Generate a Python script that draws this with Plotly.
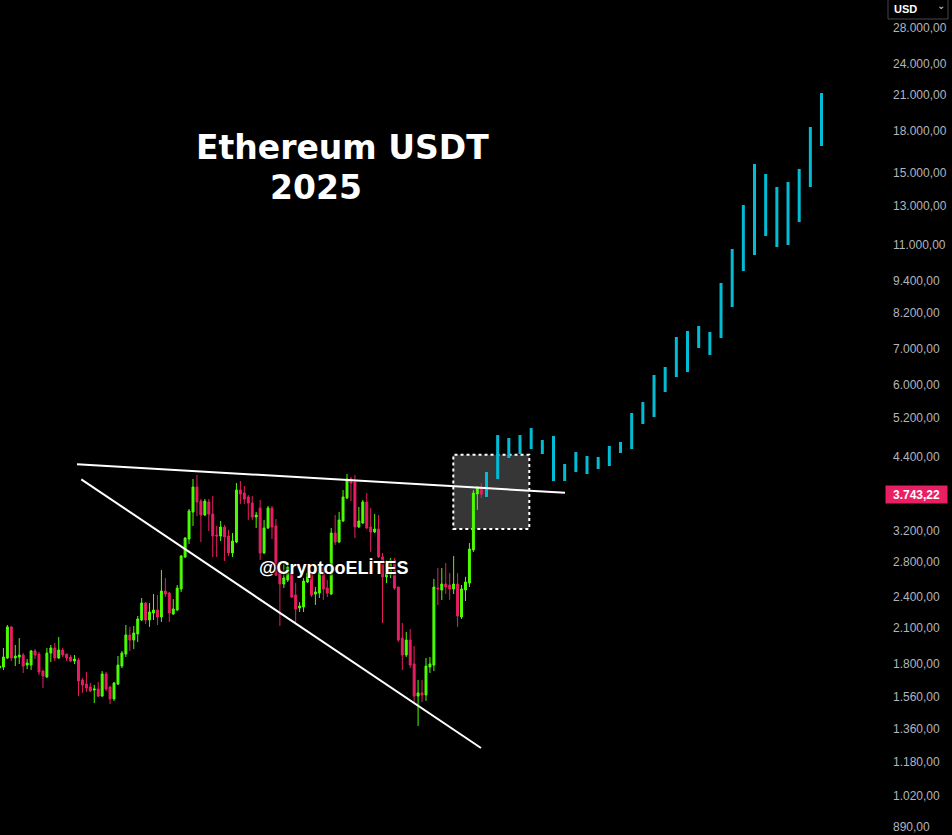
import numpy as np
import plotly.graph_objects as go

# ---------------- data ----------------
# weekly ETH/USDT candles
opens = [1768, 1776, 1846, 2111, 1846, 1854, 1870, 1791, 1791, 1903,
         1878, 1745, 1701, 1886, 1928, 1846, 1911, 1878, 1854, 1822,
         1830, 1679, 1650, 1629, 1608, 1615, 1567, 1723, 1629, 1547,
         1650, 1783, 1878, 2039, 1995, 2048, 2175, 2341, 2175, 2242,
         2271, 2204, 2465, 2444, 2232, 2271, 2487, 2855, 3085, 3467,
         3862, 3635, 3422, 3620, 3437, 3139, 3125, 3250, 3125, 2905,
         3046, 3812, 3763, 3699, 3604, 3393, 3527, 2905, 3236, 3527,
         3264, 2699, 2541, 2585, 2665, 2423, 2291, 2301, 2563, 2653,
         2433, 2444, 2734, 2497, 2433, 3166, 3046, 3335, 3683, 3997,
         3946, 3250, 3306, 3620, 3250, 3180, 3222, 2855, 2620, 2642,
         2818, 2508, 2012, 1870, 1995, 1799, 1567, 1588, 1574, 1776,
         1791, 2497, 2476, 2541, 2530, 2487, 2541, 2204, 2476, 2552,
         2943, 3747, 3862]
highs = [1799, 1928, 2129, 2120, 1953, 2012, 1886, 1838, 1911, 1919,
         1894, 1753, 1928, 1953, 1970, 2021, 1928, 1878, 1870, 1870,
         1846, 1694, 1738, 1657, 1643, 1665, 1745, 1738, 1636, 1665,
         1862, 1903, 2129, 2111, 2120, 2213, 2392, 2350, 2341, 2433,
         2423, 2699, 2608, 2455, 2381, 2530, 2880, 3112, 3512, 3997,
         4067, 3667, 3667, 3667, 3715, 3264, 3335, 3278, 3208, 3166,
         3929, 3963, 3878, 3731, 3715, 3467, 3651, 3349, 3558, 3558,
         3363, 2734, 2806, 2794, 2758, 2552, 2350, 2608, 2734, 2687,
         2508, 2794, 2770, 2585, 3236, 3422, 3467, 3812, 4085, 4032,
         4067, 3543, 3651, 3763, 3527, 3437, 3422, 2905, 2818, 2843,
         2843, 2508, 2147, 2066, 2092, 1944, 1679, 1679, 1846, 1854,
         2597, 2722, 2722, 2782, 2665, 2868, 2665, 2530, 2620, 3033,
         3812, 3862, 3929]
lows = [1753, 1753, 1838, 1822, 1783, 1799, 1731, 1760, 1753, 1838,
        1716, 1622, 1694, 1814, 1822, 1838, 1854, 1822, 1814, 1799,
        1567, 1588, 1595, 1595, 1520, 1560, 1561, 1601, 1514, 1534,
        1643, 1768, 1854, 1903, 1919, 1978, 2165, 2138, 2111, 2175,
        2129, 2156, 2402, 2156, 2223, 2261, 2455, 2843, 3020, 3264,
        3407, 3046, 3407, 3194, 2855, 2855, 3059, 2806, 2868, 2855,
        3033, 3589, 3589, 3349, 3349, 3236, 2818, 2893, 3222, 3085,
        2631, 2120, 2497, 2563, 2392, 2147, 2252, 2252, 2552, 2402,
        2321, 2392, 2371, 2402, 2423, 3007, 3033, 3322, 3667, 3635,
        3098, 3236, 3292, 3222, 2918, 3166, 2843, 2147, 2552, 2608,
        2476, 1978, 1753, 1854, 1768, 1527, 1377, 1527, 1534, 1731,
        1745, 2321, 2371, 2433, 2371, 2433, 2111, 2185, 2361, 2508,
        2918, 3497, 3683]
closes = [1783, 1854, 2111, 1846, 1862, 1870, 1783, 1807, 1903, 1870,
          1738, 1709, 1886, 1928, 1846, 1911, 1870, 1846, 1822, 1838,
          1672, 1643, 1622, 1601, 1615, 1567, 1723, 1615, 1547, 1657,
          1791, 1886, 2039, 1995, 2057, 2185, 2341, 2175, 2252, 2271,
          2204, 2465, 2433, 2242, 2281, 2497, 2868, 3098, 3482, 3862,
          3620, 3422, 3635, 3437, 3125, 3125, 3250, 3112, 2905, 3059,
          3812, 3747, 3667, 3604, 3393, 3422, 2905, 3236, 3527, 3250,
          2642, 2541, 2608, 2734, 2402, 2281, 2311, 2574, 2665, 2423,
          2455, 2734, 2487, 2444, 3166, 3046, 3349, 3699, 3997, 3929,
          3250, 3335, 3620, 3236, 3180, 3222, 2855, 2620, 2653, 2818,
          2497, 1995, 1870, 1995, 1791, 1567, 1588, 1574, 1783, 1799,
          2508, 2487, 2541, 2508, 2487, 2541, 2213, 2487, 2563, 2955,
          3763, 3862, 3743.22]

# projected bars (high / low of each projected bar)
proj_low = [3699, 3997, 4377, 4453, 4550, 4453, 3963, 3963, 4120, 4085,
            4174, 4228, 4472, 4550, 5068, 5224, 5819, 6208, 6344, 7037,
            6827, 7347, 8399, 9810, 10511, 11410, 10881, 10975, 12121, 14097,
            16826]
proj_high = [4120, 4833, 4771, 4833, 4981, 4730, 4813, 4265, 4491, 4415,
             4396, 4609, 4690, 5315, 5573, 6262, 6482, 7379, 7572, 7738,
             7540, 9315, 10788, 13044, 15569, 14911, 14097, 14405, 15236, 18264,
             21150]

price_ticks = [890, 1020, 1180, 1360, 1560, 1800, 2100, 2400, 2800, 3200, 3800,
               4400, 5200, 6000, 7000, 8200, 9400, 11000, 13000, 15000, 18000,
               21000, 24000, 28000]
last_price = 3743.22

# drawings (week index / price)
upper_line_x = [19.63, 143.2]
upper_line_y = [4259, 3768]
lower_line_x = [20.71, 121.93]
lower_line_y = [3992, 1252]
box_x = [114.92, 134.16]
box_y = [3222, 4439]
proj_start, proj_step = 123.32, 2.828

# ---------------- styling ----------------
GREEN = "#4cff00"
RED = "#e91e63"
CYAN = "#00bcd4"
W, H = 952, 835
PLOT_W = 885

fig = go.Figure()

xs = np.arange(len(opens))
fig.add_trace(go.Candlestick(
    x=xs, open=opens, high=highs, low=lows, close=closes,
    increasing=dict(line=dict(color=GREEN, width=1), fillcolor=GREEN),
    decreasing=dict(line=dict(color=RED, width=1), fillcolor=RED),
    whiskerwidth=0, hoverinfo="skip", showlegend=False))

# projected bars
px_, py_ = [], []
for j, (lo, hi) in enumerate(zip(proj_low, proj_high)):
    xj = proj_start + j * proj_step
    px_ += [xj, xj, None]
    py_ += [lo, hi, None]
fig.add_trace(go.Scatter(x=px_, y=py_, mode="lines",
                         line=dict(color=CYAN, width=3),
                         hoverinfo="skip", showlegend=False))

# trend lines
for lx, ly in [(upper_line_x, upper_line_y), (lower_line_x, lower_line_y)]:
    fig.add_trace(go.Scatter(x=lx, y=ly, mode="lines",
                             line=dict(color="white", width=2),
                             hoverinfo="skip", showlegend=False))

# grey dotted box
fig.add_shape(type="rect", xref="x", yref="y",
              x0=box_x[0], x1=box_x[1], y0=box_y[0], y1=box_y[1],
              fillcolor="#363636", line=dict(color="white", width=2, dash="dot"),
              layer="below")

s = 3.949
xlo = 0.127
xhi = xlo + PLOT_W / s
ylo = np.log10(28000) - (835 - 28) / 231.7 / np.log(10)
yhi = np.log10(28000) + 28 / 231.7 / np.log(10)

fig.update_layout(
    width=W, height=H,
    margin=dict(l=0, r=W - PLOT_W, t=0, b=0),
    paper_bgcolor="#000000", plot_bgcolor="#000000",
    separators=",.",
    showlegend=False,
    xaxis=dict(range=[xlo, xhi], visible=False, rangeslider=dict(visible=False),
               showgrid=False, zeroline=False, fixedrange=True),
    yaxis=dict(type="log", range=[ylo, yhi], side="right",
               tickvals=price_ticks, tickformat=",.2f",
               tickfont=dict(family="Liberation Sans, Arial, sans-serif", size=12, color="#b2b5be"),
               showgrid=False, zeroline=False, showline=False, ticks="",
               ticklabelstandoff=7, fixedrange=True),
    hovermode=False,
)

def paper_x(px):
    return px / PLOT_W

def paper_y(py):
    return 1 - py / H

# title texts
fig.add_annotation(text="<b>Ethereum USDT</b>", xref="paper", yref="paper",
                   x=paper_x(194), y=paper_y(147), xanchor="left", yanchor="middle",
                   showarrow=False,
                   font=dict(family="DejaVu Sans", size=33, color="white"))
fig.add_annotation(text="<b>2025</b>", xref="paper", yref="paper",
                   x=paper_x(268), y=paper_y(187), xanchor="left", yanchor="middle",
                   showarrow=False,
                   font=dict(family="DejaVu Sans", size=33, color="white"))

# watermark
fig.add_annotation(text="<b>@CryptooELİTES</b>", xref="paper", yref="paper",
                   x=paper_x(334), y=paper_y(568), xanchor="center", yanchor="middle",
                   showarrow=False,
                   font=dict(family="Liberation Sans, Arial", size=18, color="white",
                             shadow="1px 1px 2px #000, -1px -1px 2px #000"))

# last price label
fig.add_annotation(text="<b>" + f"{last_price:,.2f}".replace(",", "X").replace(".", ",").replace("X", ".") + "</b>",
                   xref="paper", yref="y", x=1.0, y=np.log10(last_price),
                   xanchor="left", yanchor="middle", showarrow=False,
                   bgcolor=RED, width=57, height=13, borderpad=2,
                   font=dict(family="Liberation Sans, Arial", size=12, color="white"))

# USD selector box
fig.add_shape(type="rect", xref="paper", yref="paper",
              x0=paper_x(888), x1=paper_x(948), y0=paper_y(19), y1=paper_y(-4),
              fillcolor="#000000", line=dict(color="#434651", width=1))
fig.add_annotation(text="<b>USD</b>", xref="paper", yref="paper",
                   x=paper_x(892), y=paper_y(9), xanchor="left", yanchor="middle",
                   showarrow=False,
                   font=dict(family="Liberation Sans, Arial", size=11, color="white"))
fig.add_annotation(text="⌄", xref="paper", yref="paper",
                   x=paper_x(941), y=paper_y(6), xanchor="center", yanchor="middle",
                   showarrow=False,
                   font=dict(family="DejaVu Sans", size=10, color="#d1d4dc"))

fig.write_html("out.html", config={"displayModeBar": False},
               post_script="document.body.style.margin='0';"
                           "document.body.style.background='#000';"
                           "document.body.style.overflow='hidden';")
